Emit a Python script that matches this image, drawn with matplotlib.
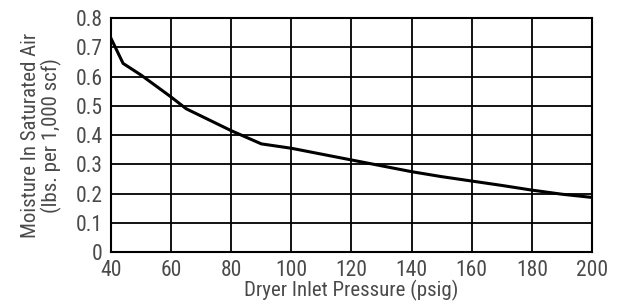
import matplotlib
matplotlib.use("Agg")
import matplotlib.pyplot as plt

# Moisture content of saturated air vs. dryer inlet pressure
pressure = [40, 44, 50, 60, 65, 70, 80, 90, 100, 110, 120, 130, 140, 150, 160, 170, 180, 190, 200]
moisture = [0.73, 0.645, 0.605, 0.53, 0.49, 0.465, 0.415, 0.37, 0.355, 0.335, 0.315,
            0.295, 0.275, 0.258, 0.243, 0.228, 0.212, 0.198, 0.187]
x_ticks = [40, 60, 80, 100, 120, 140, 160, 180, 200]
y_ticks = [0, 0.1, 0.2, 0.3, 0.4, 0.5, 0.6, 0.7, 0.8]
y_labels = ["0", "0.1", "0.2", "0.3", "0.4", "0.5", "0.6", "0.7", "0.8"]

plt.rcParams["font.family"] = ["Roboto Condensed", "DejaVu Sans"]
text_color = "#4a4a4a"

fig = plt.figure(figsize=(6.42, 3.06), dpi=100)
ax = fig.add_axes([0.173, 0.176, 0.749, 0.765])

ax.plot(pressure, moisture, color="black", linewidth=2.2, zorder=3)

ax.set_xlim(40, 200)
ax.set_ylim(0, 0.8)
ax.set_xticks(x_ticks)
ax.set_yticks(y_ticks)
ax.set_yticklabels(y_labels)
ax.grid(True, color="black", linewidth=1.3)
for gl in ax.get_xgridlines():
    if abs(gl.get_xdata()[0] - 140) < 1e-6:
        gl.set_color("#999999")
ax.tick_params(axis="y", length=0, pad=6, labelsize=15.5, colors=text_color)
ax.tick_params(axis="x", length=0, pad=6, labelsize=15.5, colors=text_color)
for s in ax.spines.values():
    s.set_linewidth(1.5)
    s.set_color("black")

ax.set_xlabel("Dryer Inlet Pressure (psig)", fontsize=15, color=text_color, labelpad=-1)
ax.set_ylabel("Moisture In Saturated Air\n(lbs. per 1,000 scf)", fontsize=15,
              color=text_color, labelpad=10, linespacing=1.05)

fig.savefig("out.png", dpi=100)
